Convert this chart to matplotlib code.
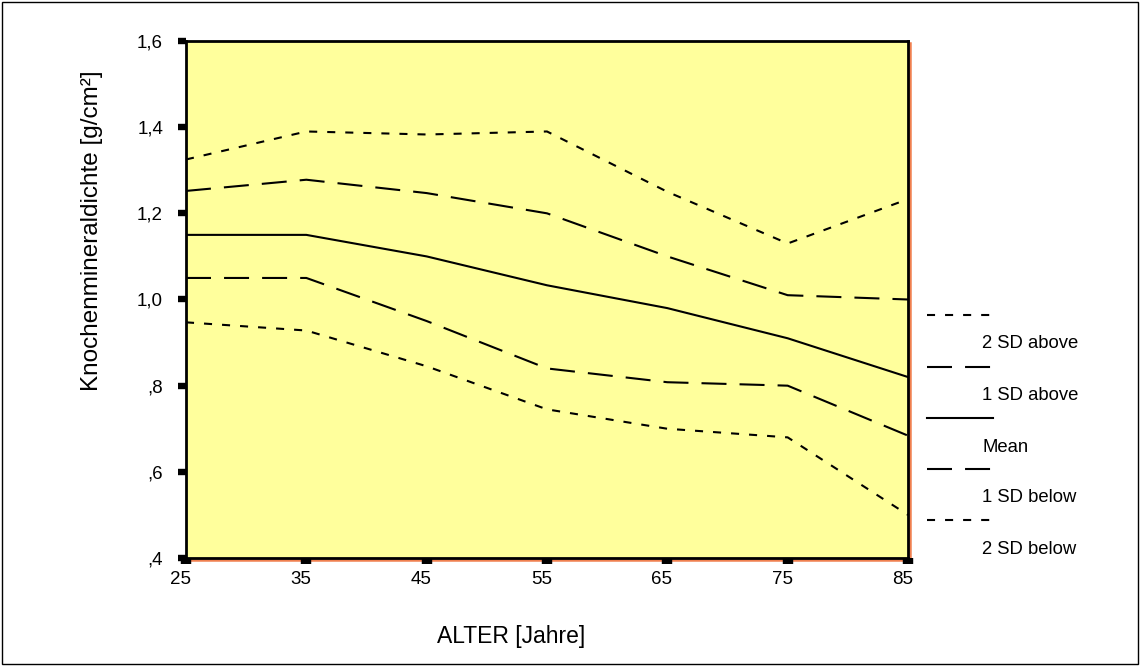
import numpy as np
import matplotlib
matplotlib.use("Agg")
import matplotlib.pyplot as plt
from matplotlib.lines import Line2D
from matplotlib.patches import Rectangle
from matplotlib.transforms import ScaledTranslation

plt.rcParams.update({
    "font.family": ["Liberation Sans", "DejaVu Sans"],
    "lines.scale_dashes": False,
})

# --- data --------------------------------------------------------------------
age = [25, 35, 45, 55, 65, 75, 85]
sd2_above = [1.325, 1.39, 1.383, 1.39, 1.25, 1.13, 1.233]
sd1_above = [1.252, 1.278, 1.247, 1.20, 1.10, 1.01, 1.00]
mean = [1.15, 1.15, 1.10, 1.033, 0.98, 0.91, 0.82]
sd1_below = [1.05, 1.05, 0.95, 0.84, 0.808, 0.80, 0.684]
sd2_below = [0.947, 0.928, 0.845, 0.745, 0.70, 0.68, 0.50]

yticks = [0.4, 0.6, 0.8, 1.0, 1.2, 1.4, 1.6]
ytick_labels = [",4", ",6", ",8", "1,0", "1,2", "1,4", "1,6"]
legend_labels = ["2 SD above", "1 SD above", "Mean", "1 SD below", "2 SD below"]

DOT = (0, (5.8, 7.2))
DASH = (0, (18, 9.4))
styles = [DOT, DASH, "-", DASH, DOT]
series = [sd2_above, sd1_above, mean, sd1_below, sd2_below]

W, H = 1140, 666
fig = plt.figure(figsize=(W / 100, H / 100), dpi=100)
ax = fig.add_axes([186 / W, 1 - 558 / H, (908 - 186) / W, (558 - 41) / H])
ax.set_facecolor("#FFFF9C")

# orange shadow on the right / bottom edge of the plot area
fig.add_artist(Rectangle(((186 + 2) / W, 1 - (558 + 2) / H), (908 - 186) / W,
                         (558 - 41) / H, transform=fig.transFigure,
                         facecolor="none", edgecolor="#F08050", lw=1.8, zorder=0))

for vals, ls in zip(series, styles):
    ax.plot(age, vals, color="black", lw=1.5, linestyle=ls, zorder=3)

ax.set_xlim(25, 85)
ax.set_ylim(0.4, 1.6)
ax.set_xticks(age)
ax.set_yticks(yticks)
ax.set_yticklabels(ytick_labels)
for s in ax.spines.values():
    s.set_linewidth(2)
    s.set_zorder(4)
ax.tick_params(axis="y", direction="out", length=5.5, width=4.6, pad=11,
               labelsize=13.5)
ax.tick_params(axis="x", direction="out", length=4, width=7.5, pad=5,
               labelsize=13.5)
shift = ScaledTranslation(-4 / 72, 0, fig.dpi_scale_trans)
for lab in ax.get_xticklabels():
    lab.set_transform(lab.get_transform() + shift)

fig.text(511 / W, 1 - 636 / H, "ALTER [Jahre]", ha="center", va="center",
         fontsize=16.5)
fig.text(92 / W, 1 - 231 / H, "Knochenmineraldichte [g/cm²]", ha="center",
         va="center", rotation=90, fontsize=17.5)

# legend outside the plot, label below each line sample
line_y = [315, 367, 418, 469, 520]
for y, ls, lab in zip(line_y, styles, legend_labels):
    fig.add_artist(Line2D([927 / W, 993 / W], [1 - y / H, 1 - y / H],
                          transform=fig.transFigure, color="black", lw=1.5,
                          linestyle=ls))
    fig.text(982 / W, 1 - (y + 29) / H, lab, ha="left", va="center",
             fontsize=13.3)

# outer frame
fig.add_artist(Rectangle((2 / W, 2 / H), (W - 4) / W, (H - 4) / H,
                         transform=fig.transFigure, facecolor="none",
                         edgecolor="black", lw=1))

fig.savefig("out.png", dpi=100, facecolor="white")
